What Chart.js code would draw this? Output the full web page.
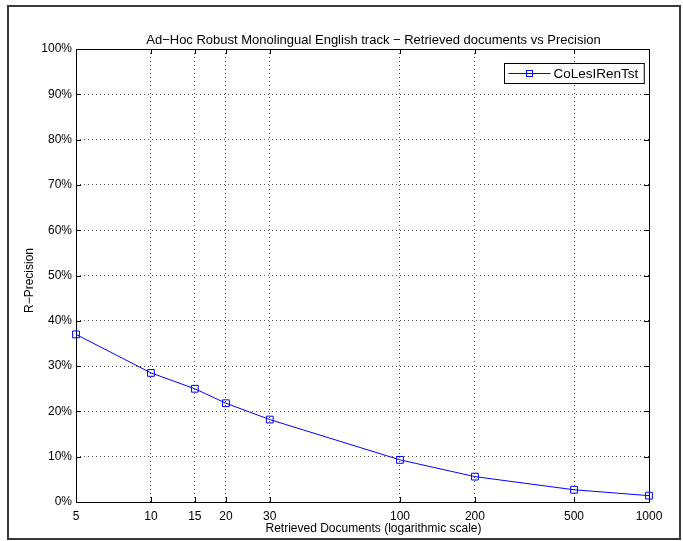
<!DOCTYPE html>
<html>
<head>
<meta charset="utf-8">
<title>Retrieved documents vs Precision</title>
<script src="https://cdn.jsdelivr.net/npm/chart.js@4"></script>
<style>
    html, body { margin: 0; padding: 0; background: #fff; }
    #wrap { position: relative; width: 683px; height: 541px; }
    #frame {
        position: absolute; left: 7px; top: 5px; width: 670px; height: 531px;
        border: 2px solid #3a3a3a; pointer-events: none;
    }
    canvas { position: absolute; left: 0; top: 0; }
</style>
</head>
<body>
<div id="wrap">
    <canvas id="precisionChart" width="683" height="541"></canvas>
    <div id="frame"></div>
</div>
<script>
// Retrieved documents (x, log scale) and R-Precision in %
const retrievedDocs = [5, 10, 15, 20, 30, 100, 200, 500, 1000];
const rPrecision = [37.0, 28.5, 25.0, 21.8, 18.2, 9.3, 5.6, 2.7, 1.4];
const xTickValues = [5, 10, 15, 20, 30, 100, 200, 500, 1000];
const seriesName = 'CoLesIRenTst';

const chartTitle = 'Ad\u2212Hoc Robust Monolingual English track \u2212 Retrieved documents vs Precision';
const xLabel = 'Retrieved Documents (logarithmic scale)';
const yLabel = 'R\u2212Precision';

const FONT = 'Liberation Sans, Arial, Helvetica, sans-serif';
const BLUE = '#0000ff';
const GRID = 'rgba(0,0,0,0.7)';

// box around plot area with inward tick marks (matlab style)
const axesBox = {
    id: 'axesBox',
    beforeDatasetsDraw(chart) {
        const { ctx, chartArea: a, scales } = chart;
        ctx.save();
        ctx.strokeStyle = '#000';
        ctx.lineWidth = 1;
        ctx.beginPath();
        scales.x.ticks.forEach(t => {
            const px = Math.round(scales.x.getPixelForValue(t.value)) + 0.5;
            ctx.moveTo(px, a.bottom); ctx.lineTo(px, a.bottom - 5);
            ctx.moveTo(px, a.top); ctx.lineTo(px, a.top + 5);
        });
        scales.y.ticks.forEach(t => {
            const py = Math.round(scales.y.getPixelForValue(t.value)) + 0.5;
            ctx.moveTo(a.left, py); ctx.lineTo(a.left + 5, py);
            ctx.moveTo(a.right, py); ctx.lineTo(a.right - 5, py);
        });
        ctx.stroke();
        ctx.strokeRect(Math.round(a.left) + 0.5, Math.round(a.top) + 0.5,
            Math.round(a.right - a.left), Math.round(a.bottom - a.top));
        ctx.restore();
    }
};

// title and axis labels, matlab puts them a bit right of the axes centre
const figureText = {
    id: 'figureText',
    afterDraw(chart) {
        const { ctx, chartArea: a } = chart;
        const cx = (a.left + a.right) / 2 + 11;
        const cy = (a.top + a.bottom) / 2 + 5;
        ctx.save();
        ctx.fillStyle = '#000';
        ctx.textAlign = 'center';
        ctx.textBaseline = 'middle';
        ctx.font = '13px ' + FONT;
        ctx.fillText(chartTitle, cx, a.top - 9);
        ctx.font = '12px ' + FONT;
        ctx.fillText(xLabel, cx, a.bottom + 27);
        ctx.translate(30, cy);
        ctx.rotate(-Math.PI / 2);
        ctx.fillText(yLabel, 0, 0);
        ctx.restore();
    }
};

// legend box in the upper right corner
const cornerLegend = {
    id: 'cornerLegend',
    afterDraw(chart) {
        const { ctx, chartArea: a } = chart;
        const ds = chart.data.datasets[0];
        ctx.save();
        ctx.font = '13.5px ' + FONT;
        const tw = ctx.measureText(ds.label).width;
        const w = 49 + tw + 6, h = 20;
        const x0 = Math.round(a.right - 5 - w) + 0.5, y0 = Math.round(a.top + 14) + 0.5;
        ctx.fillStyle = '#fff';
        ctx.fillRect(x0, y0, w, h);
        ctx.strokeStyle = '#000';
        ctx.lineWidth = 1;
        ctx.strokeRect(x0, y0, w, h);
        const cy = Math.round(y0 + h / 2) - 0.5;
        ctx.strokeStyle = ds.borderColor;
        ctx.beginPath();
        ctx.moveTo(x0 + 4, cy); ctx.lineTo(x0 + 46, cy);
        ctx.stroke();
        ctx.strokeRect(x0 + 22, cy - 3, 6, 6);
        ctx.fillStyle = '#000';
        ctx.textBaseline = 'middle';
        ctx.fillText(ds.label, x0 + 49, cy + 1);
        ctx.restore();
    }
};

const ctx = document.getElementById('precisionChart').getContext('2d');
new Chart(ctx, {
    type: 'line',
    data: {
        datasets: [{
            label: seriesName,
            data: retrievedDocs.map((d, i) => ({ x: d, y: rPrecision[i] })),
            borderColor: BLUE,
            borderWidth: 1,
            backgroundColor: 'transparent',
            pointStyle: 'rect',
            pointRadius: 4.8,
            pointBorderWidth: 1,
            pointBorderColor: BLUE,
            pointBackgroundColor: 'transparent',
            tension: 0,
            fill: false,
            clip: false
        }]
    },
    options: {
        responsive: false,
        animation: false,
        events: [],
        layout: { padding: { top: 49, left: 0, right: 34, bottom: 0 } },
        plugins: {
            legend: { display: false },
            tooltip: { enabled: false },
            title: { display: false }
        },
        scales: {
            x: {
                type: 'logarithmic',
                min: 5,
                max: 1000,
                afterBuildTicks: s => { s.ticks = xTickValues.map(v => ({ value: v })); },
                afterFit: s => { s.height = 39; },
                border: { display: false, dash: [1, 3] },
                grid: {
                    color: GRID,
                    lineWidth: 1,
                    drawTicks: false
                },
                ticks: {
                    autoSkip: false,
                    maxRotation: 0,
                    padding: 7,
                    color: '#000',
                    font: { family: FONT, size: 12 },
                    callback: v => String(v)
                }
            },
            y: {
                min: 0,
                max: 100,
                afterFit: s => { s.width = 76; },
                border: { display: false, dash: [1, 3] },
                grid: {
                    color: GRID,
                    lineWidth: 1,
                    drawTicks: false
                },
                ticks: {
                    stepSize: 10,
                    padding: 4,
                    color: '#000',
                    font: { family: FONT, size: 12 },
                    callback: v => v + '%'
                }
            }
        }
    },
    plugins: [axesBox, figureText, cornerLegend]
});
</script>
</body>
</html>
